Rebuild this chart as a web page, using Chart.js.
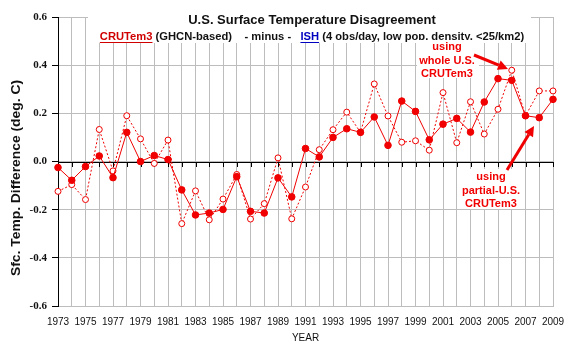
<!DOCTYPE html>
<html>
<head>
<meta charset="utf-8">
<script src="https://cdn.jsdelivr.net/npm/chart.js@4/dist/chart.umd.min.js"></script>
<style>
html,body{margin:0;padding:0;background:#fff;}
#wrap{width:576px;height:355px;}
</style>
</head>
<body>
<div id="wrap"><canvas id="c" width="576" height="355"></canvas></div>
<script>
// ---- data ----
const years = [1973,1974,1975,1976,1977,1978,1979,1980,1981,1982,1983,1984,1985,1986,1987,1988,1989,1990,1991,1992,1993,1994,1995,1996,1997,1998,1999,2000,2001,2002,2003,2004,2005,2006,2007,2008,2009];
const partialUS = [-0.025,-0.078,-0.021,0.023,-0.067,0.121,0.000,0.025,0.008,-0.118,-0.222,-0.214,-0.199,-0.063,-0.207,-0.214,-0.068,-0.147,0.054,0.019,0.100,0.136,0.121,0.185,0.067,0.251,0.208,0.090,0.155,0.179,0.122,0.247,0.344,0.337,0.190,0.182,0.258];
const wholeUS = [-0.124,-0.096,-0.158,0.133,-0.039,0.190,0.094,-0.008,0.089,-0.258,-0.122,-0.242,-0.156,-0.054,-0.239,-0.175,0.015,-0.238,-0.106,0.049,0.132,0.205,0.121,0.322,0.189,0.080,0.086,0.047,0.286,0.078,0.248,0.114,0.217,0.379,0.190,0.293,0.293];
const yTicks = [-0.6,-0.4,-0.2,0.0,0.2,0.4,0.6];

const RED = '#f00000';
const GRID = '#bdbdbd';

const overlay = {
  id: 'overlay',
  beforeDatasetsDraw(chart) {
    const ctx = chart.ctx, x = chart.scales.x, y = chart.scales.y, a = chart.chartArea;
    const y0 = y.getPixelForValue(0);
    ctx.save();
    ctx.strokeStyle = '#000';
    ctx.lineWidth = 1;
    ctx.beginPath();
    ctx.moveTo(a.left, Math.round(y0) + 0.5);
    ctx.lineTo(a.right, Math.round(y0) + 0.5);
    for (let i = 0; i < years.length; i++) {
      const px = Math.round(x.getPixelForTick(i)) + 0.5;
      ctx.moveTo(px, Math.round(y0));
      ctx.lineTo(px, Math.round(y0) + 5);
    }
    ctx.stroke();
    ctx.restore();
  },
  afterDatasetsDraw(chart) {
    const ctx = chart.ctx;
    ctx.save();
    // title box
    ctx.fillStyle = '#fff';
    ctx.fillRect(88, 9, 443, 34);
    ctx.fillStyle = '#111';
    ctx.textAlign = 'center';
    ctx.textBaseline = 'middle';
    ctx.font = 'bold 13px "Liberation Sans", Arial, sans-serif';
    ctx.fillText('U.S. Surface Temperature Disagreement', 312, 20);
    // subtitle pieces
    ctx.font = 'bold 11.2px "Liberation Sans", Arial, sans-serif';
    const parts = [
      ['CRUTem3', '#d00000', true],
      [' (GHCN-based)    - minus -   ', '#111', false],
      ['ISH', '#0000c0', true],
      [' (4 obs/day, low pop. density, <25/km2)', '#111', false]
    ];
    let total = 0;
    parts.forEach(p => total += ctx.measureText(p[0]).width);
    let cx = 312 - total / 2;
    ctx.textAlign = 'left';
    parts.forEach(p => {
      const w = ctx.measureText(p[0]).width;
      ctx.fillStyle = p[1];
      ctx.fillText(p[0], cx, 37);
      if (p[2]) { ctx.fillRect(cx, 42, w, 1); }
      cx += w;
    });
    // annotation boxes
    ctx.fillStyle = '#fff';
    ctx.fillRect(417, 40, 62, 38);
    ctx.fillRect(460, 169, 62, 40);
    ctx.fillStyle = RED;
    ctx.textAlign = 'center';
    ctx.font = 'bold 11px "Liberation Sans", Arial, sans-serif';
    ['using', 'whole U.S.', 'CRUTem3'].forEach((t, i) => ctx.fillText(t, 447, 47 + i * 13.5));
    ['using', 'partial-U.S.', 'CRUTem3'].forEach((t, i) => ctx.fillText(t, 491, 177 + i * 13.5));
    // arrows
    function arrow(x1, y1, x2, y2) {
      const ang = Math.atan2(y2 - y1, x2 - x1);
      const hl = 10, hw = 5;
      const bx = x2 - hl * Math.cos(ang), by = y2 - hl * Math.sin(ang);
      ctx.strokeStyle = RED; ctx.lineWidth = 3;
      ctx.beginPath(); ctx.moveTo(x1, y1); ctx.lineTo(bx, by); ctx.stroke();
      ctx.fillStyle = RED;
      ctx.beginPath();
      ctx.moveTo(x2, y2);
      ctx.lineTo(bx + hw * Math.sin(ang), by - hw * Math.cos(ang));
      ctx.lineTo(bx - hw * Math.sin(ang), by + hw * Math.cos(ang));
      ctx.closePath(); ctx.fill();
    }
    arrow(474, 55, 508, 69);
    arrow(507, 170, 534, 126);
    // y axis title
    ctx.fillStyle = '#111';
    ctx.font = 'bold 12px "Liberation Sans", Arial, sans-serif';
    const yt = 'Sfc. Temp. Difference (deg. C)';
    const tw = ctx.measureText(yt).width;
    ctx.translate(17, 178);
    ctx.rotate(-Math.PI / 2);
    ctx.scale(196 / tw, 1);
    ctx.textAlign = 'center';
    ctx.fillText(yt, 0, 0);
    ctx.restore();
  }
};

new Chart(document.getElementById('c'), {
  type: 'line',
  data: {
    labels: years,
    datasets: [
      {
        label: 'partial-U.S. CRUTem3',
        data: partialUS,
        borderColor: RED,
        backgroundColor: RED,
        borderWidth: 1,
        pointRadius: 3.3,
        pointBorderWidth: 1,
        pointBackgroundColor: RED,
        pointBorderColor: RED,
        tension: 0,
        order: 0
      },
      {
        label: 'whole U.S. CRUTem3',
        data: wholeUS,
        borderColor: RED,
        borderWidth: 1,
        borderDash: [2, 2],
        pointRadius: 3,
        pointBorderWidth: 1,
        pointBackgroundColor: '#fff',
        pointBorderColor: RED,
        tension: 0,
        order: 1
      }
    ]
  },
  options: {
    responsive: false,
    animation: false,
    devicePixelRatio: 1,
    layout: { padding: { left: 0, right: 23, top: 17, bottom: 0 } },
    plugins: { legend: { display: false }, tooltip: { enabled: false }, title: { display: false } },
    scales: {
      x: {
        type: 'category',
        offset: false,
        afterFit: s => { s.height = 49; },
        grid: { color: GRID, lineWidth: 1, drawTicks: false, tickLength: 0 },
        border: { color: GRID, width: 1 },
        ticks: {
          autoSkip: false, maxRotation: 0, minRotation: 0, padding: 10,
          color: '#111',
          font: { family: '"Liberation Sans", Arial, sans-serif', size: 10 },
          callback: function (v, i) { return (years[i] - 1973) % 2 === 0 ? String(years[i]) : ''; }
        },
        title: {
          display: true, text: 'YEAR', color: '#111',
          font: { family: '"Liberation Sans", Arial, sans-serif', size: 10 },
          padding: { top: 0, bottom: 11 }
        }
      },
      y: {
        min: -0.6, max: 0.6,
        afterFit: s => { s.width = 58; },
        afterBuildTicks: s => { s.ticks = yTicks.map(v => ({ value: v })); },
        grid: { color: GRID, tickColor: '#000', tickLength: 6, lineWidth: 1 },
        border: { color: '#000', width: 1 },
        ticks: {
          padding: 5, color: '#111',
          font: { family: '"Liberation Serif", "Times New Roman", serif', size: 11, weight: 'bold' },
          callback: v => Number(v).toFixed(1)
        }
      }
    }
  },
  plugins: [overlay]
});
</script>
</body>
</html>
